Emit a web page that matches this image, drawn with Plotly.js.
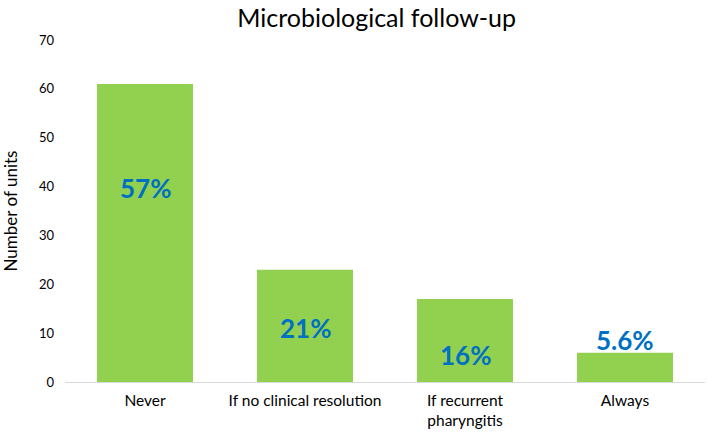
<!DOCTYPE html>
<html>
<head>
<meta charset="utf-8">
<script src="https://cdn.plot.ly/plotly-3.0.1.min.js"></script>
<style>html,body{margin:0;padding:0;background:#fff;}#chart{width:708px;height:434px;}</style>
</head>
<body>
<div id="chart"></div>
<script>
const categories = ["Never", "If no clinical resolution", "If recurrent<br>pharyngitis", "Always"];
const units = [61, 23, 17, 6];
const pctLabels = ["57%", "21%", "16%", "5.6%"];
const labelY = [39.7, 11, 5.5, 8.6];

const FONT = "Lato, 'Open Sans', sans-serif";

const trace = {
  type: "bar",
  x: categories,
  y: units,
  marker: { color: "#92D050" },
  hoverinfo: "x+y"
};

const annotations = categories.map((c, i) => ({
  x: c, y: labelY[i], xref: "x", yref: "y",
  text: "<b>" + pctLabels[i] + "</b>",
  showarrow: false,
  font: { family: FONT, size: 26, color: "#0070C0" }
}));

const layout = {
  width: 708, height: 434,
  margin: { l: 65, r: 3, t: 40, b: 52 },
  paper_bgcolor: "#fff", plot_bgcolor: "#fff",
  bargap: 0.4,
  showlegend: false,
  title: { text: "Microbiological follow-up", font: { family: FONT, size: 25, color: "#000" }, x: 0.532, xanchor: "center", y: 0.958, yanchor: "middle" },
  xaxis: {
    showgrid: false, zeroline: false, showline: true, linecolor: "#d9d9d9", linewidth: 1,
    ticks: "", ticklabelstandoff: 4, tickfont: { family: FONT, size: 15.5, color: "#000" }
  },
  yaxis: {
    range: [0, 70], dtick: 10, showgrid: false, zeroline: false, showline: false,
    ticks: "", ticklabelstandoff: 10, tickfont: { family: FONT, size: 13, color: "#000" },
    title: { text: "Number of units", font: { family: FONT, size: 17, color: "#000" }, standoff: 20 }
  },
  annotations: annotations
};

Plotly.newPlot("chart", [trace], layout, { displayModeBar: false, staticPlot: true });
</script>
</body>
</html>
